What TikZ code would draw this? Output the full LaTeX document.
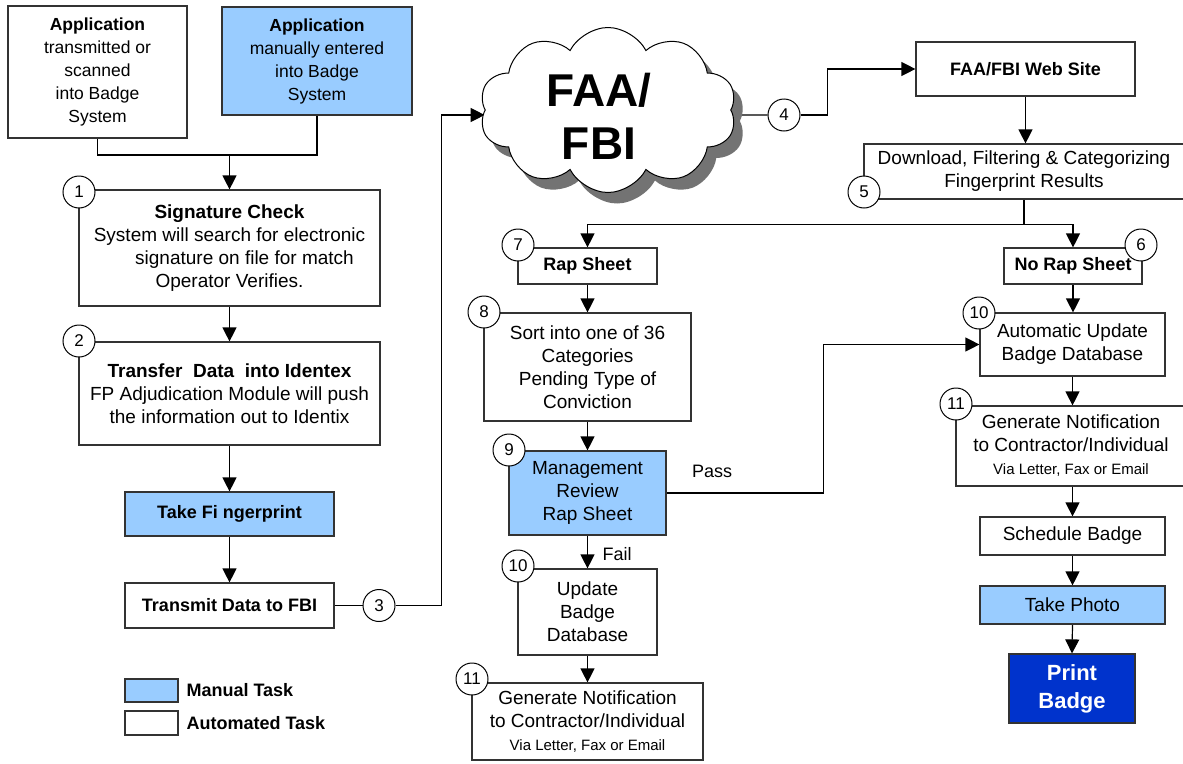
\documentclass[tikz,border=0pt]{standalone}
\usepackage{fontspec}
\setmainfont{Liberation Sans}
\usetikzlibrary{arrows.meta,shapes.symbols,shadows,calc}
\definecolor{manual}{HTML}{99CCFF}
\definecolor{printblue}{HTML}{0033CC}
\definecolor{edge}{HTML}{333333}
\pgfdeclarelayer{bg}
\pgfsetlayers{bg,main}
\begin{document}
\begin{tikzpicture}[x=1pt,y=-1pt,
 box/.style={draw=edge, line width=1.2pt, fill=white, inner sep=2pt, align=center, font=\fontsize{19}{23}\selectfont},
 man/.style={box, fill=manual},
 num/.style={circle, draw=black, line width=1pt, fill=white, minimum size=32pt, inner sep=0pt, font=\fontsize{17}{20}\selectfont},
 arr/.style={line width=1.2pt, -{Triangle[length=14pt,width=14pt]}},
 ln/.style={line width=1.2pt},
 bf/.style={font=\fontsize{18}{23}\selectfont\bfseries},
 lbl/.style={font=\fontsize{18}{22}\selectfont},
]
\useasboundingbox (0,0) rectangle (1183,763);

% left column
\node[box, minimum width=179pt, minimum height=132pt, font=\fontsize{17.5}{23}\selectfont] (a1) at (97.5,72) {\textbf{Application}\\transmitted or\\scanned\\into Badge\\System};
\node[man, minimum width=190pt, minimum height=108pt, font=\fontsize{17.5}{23}\selectfont] (a2) at (317,61) {\textbf{Application}\\manually entered\\into Badge\\System};
\node[box, minimum width=301pt, minimum height=116pt] (b1) at (229.5,248) {\textbf{Signature Check}\\System will search for electronic\\\hspace*{30pt}signature on file for match\\Operator Verifies.};
\node[box, minimum width=301pt, minimum height=103pt] (b2) at (229.5,393.5) {\textbf{Transfer\ \ Data\ \ into Identex}\\FP Adjudication Module will push\\the information out to Identix};
\node[man, minimum width=209pt, minimum height=44pt, bf] (fp) at (229.5,514) {Take Fi ngerprint};
\node[box, minimum width=209pt, minimum height=45pt, bf] (tx) at (229.5,605.5) {Transmit Data to FBI};

% cloud
\node[cloud, cloud puffs=10, cloud puff arc=125, cloud ignores aspect, minimum width=257pt, minimum height=165pt, draw=black, line width=1pt, fill=white, drop shadow={shadow xshift=9pt, shadow yshift=-11pt, fill=black!55, opacity=1}] (cloud) at (608,110) {};
\node[font=\fontsize{46}{53}\selectfont\bfseries, align=center] (cloudtxt) at (599,116) {FAA/\\FBI};

% right part
\node[box, minimum width=219pt, minimum height=54pt, bf] (web) at (1025.5,69) {FAA/FBI Web Site};
\node[box, minimum width=320pt, minimum height=55pt] (dl) at (1024,171.5) {Download, Filtering \& Categorizing\\Fingerprint Results};
\node[box, minimum width=139pt, minimum height=36pt, bf] (rap) at (587.5,266) {Rap Sheet};
\node[box, minimum width=138pt, minimum height=36pt, bf] (norap) at (1073,266) {No Rap Sheet};
\node[box, minimum width=207pt, minimum height=108pt] (b8) at (587.5,367) {Sort into one of 36\\Categories\\Pending Type of\\Conviction};
\node[man, minimum width=157pt, minimum height=84pt] (b9) at (587.5,493) {Management\\Review\\Rap Sheet};
\node[box, minimum width=139pt, minimum height=86pt] (b10l) at (587.5,612) {Update\\Badge\\Database};
\node[box, minimum width=231pt, minimum height=77pt] (b11l) at (587.5,721.5) {Generate Notification\\to Contractor/Individual\\{\fontsize{15}{18}\selectfont Via Letter, Fax or Email}};
\node[box, minimum width=185pt, minimum height=63pt] (b10r) at (1072.5,344.5) {Automatic Update\\Badge Database};
\node[box, minimum width=230pt, minimum height=80pt] (b11r) at (1071,446) {Generate Notification\\to Contractor/Individual\\{\fontsize{15}{18}\selectfont Via Letter, Fax or Email}};
\node[box, minimum width=185pt, minimum height=38pt] (sched) at (1072.5,536) {Schedule Badge};
\node[man, minimum width=185pt, minimum height=38pt] (photo) at (1072.5,605) {Take Photo};
\node[draw=edge, fill=printblue, text=white, font=\fontsize{22}{28}\selectfont\bfseries, align=center, minimum width=126pt, minimum height=69pt, line width=1.2pt] (print) at (1072,688.5) {Print\\Badge};

% labels
\node[lbl] (pass) at (712,471) {Pass};
\node[lbl] (fail) at (617,554) {Fail};

% legend
\node[man, minimum width=53pt, minimum height=23pt] (lm) at (151.5,690.5) {};
\node[box, minimum width=53pt, minimum height=24pt] (la) at (151.5,723) {};
\node[anchor=west, bf] (lmt) at (183,690.5) {Manual Task};
\node[anchor=west, bf] (lat) at (183,723) {Automated Task};

% numbers
\node[num] (c1) at (79,192) {1};
\node[num] (c2) at (79,341) {2};
\node[num] (c3) at (379,605.5) {3};
\node[num] (c4) at (784,115) {4};
\node[num] (c5) at (864,192) {5};
\node[num] (c6) at (1141,245) {6};
\node[num] (c7) at (518,245) {7};
\node[num] (c8) at (484,312) {8};
\node[num] (c9) at (509,450) {9};
\node[num] (c10l) at (518,566) {10};
\node[num] (c11l) at (472,679) {11};
\node[num] (c10r) at (979,313) {10};
\node[num] (c11r) at (956,404) {11};

% connectors
\begin{pgfonlayer}{bg}
\fill[white] (0,0) rectangle (1183,763);
\coordinate (m) at (229.5,155);
\draw[ln] (a1.south) |- (m);
\draw[ln] (a2.south) |- (m);
\draw[arr] (m) -- (b1.north);
\draw[arr] (b1.south) -- (b2.north);
\draw[arr] (b2.south) -- (fp.north);
\draw[arr] (fp.south) -- (tx.north);
\draw[ln] (tx.east) -- (c3.west);
\draw[arr] (c3.east) -- ++(46,0) |- ([yshift=-5pt]cloud.west);
\draw[ln] ([yshift=-5pt]cloud.east) -- (c4.west);
\draw[arr] (c4.east) -- ++(27,0) |- (web.west);
\draw[arr] (web.south) -- (web.south |- dl.north);
\draw[ln] (dl.south) -- ++(0,25) coordinate (sp);
\draw[arr] (sp) -| (rap.north);
\draw[arr] (sp) -| (norap.north);
\draw[arr] (rap.south) -- (b8.north);
\draw[arr] (b8.south) -- (b9.north);
\draw[arr] (b9.south) -- (b10l.north);
\draw[arr] (b10l.south) -- (b11l.north);
\draw[arr] (b9.east) -- ++(157,0) |- (b10r.west);
\draw[arr] (norap.south) -- (norap.south |- b10r.north);
\draw[arr] (b10r.south) -- (b10r.south |- b11r.north);
\draw[arr] (b11r.south -| b10r.south) -- (sched.north);
\draw[arr] (sched.south) -- (photo.north);
\draw[arr] (photo.south) -- (print.north);
\end{pgfonlayer}
\end{tikzpicture}
\end{document}
